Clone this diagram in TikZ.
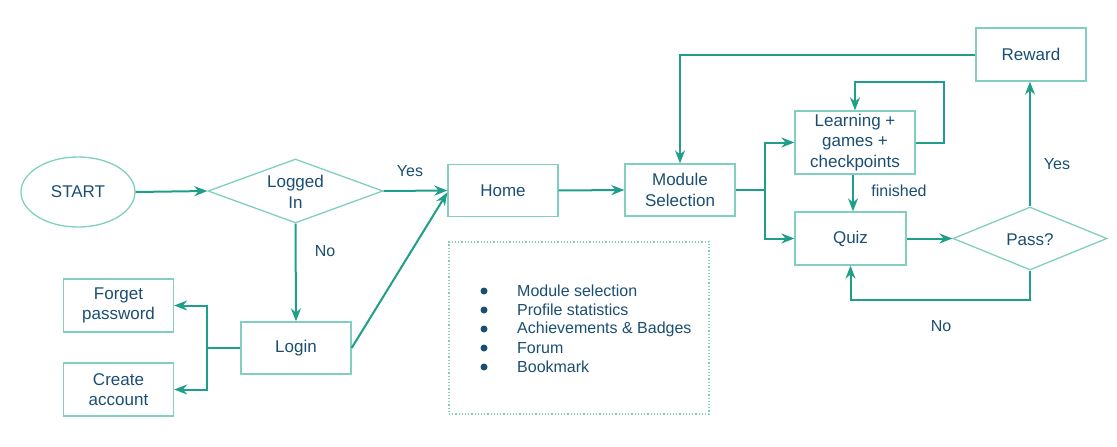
\documentclass[tikz,border=0pt]{standalone}
\usepackage{fontspec}
\setmainfont{Liberation Sans}
\usetikzlibrary{shapes.geometric,arrows.meta}
\definecolor{linec}{HTML}{1F9E89}
\definecolor{boxc}{HTML}{80CFBF}
\definecolor{txtc}{HTML}{1A4E72}
\tikzset{
  every node/.style={text=txtc,font=\fontsize{16}{20.5}\selectfont},
  bigtxt/.style={font=\fontsize{17}{20.5}\selectfont},
  boxnode/.style={draw=boxc,line width=1.3pt,minimum width=110pt,minimum height=52pt,align=center,inner sep=2pt,bigtxt},
  diam/.style={draw=boxc,line width=1.3pt,diamond,inner sep=0pt},
  conn/.style={draw=linec,line width=2pt,-{Stealth[length=13pt,width=10pt]}},
  plainconn/.style={draw=linec,line width=2pt},
  lbl/.style={inner sep=0pt}
}
\begin{document}
\begin{tikzpicture}[x=1pt,y=-1pt]
\useasboundingbox (0,0) rectangle (1117,447);
% nodes
\node[draw=boxc,line width=1.3pt,ellipse,minimum width=114pt,minimum height=70pt,bigtxt] (start) at (78,192) {START};
\node[diam,minimum width=175pt,minimum height=64pt] (log) at (295.5,191) {};
\node[align=center,lbl,bigtxt] (logt) at (295.5,192) {Logged\\In};
\node[boxnode] (home) at (503,190.5) {Home};
\node[boxnode] (login) at (296,348) {Login};
\node[boxnode,minimum height=53pt] (forget) at (118.5,305.5) {Forget\\password};
\node[boxnode,minimum height=53pt] (create) at (118.5,389.5) {Create\\account};
\node[boxnode] (mod) at (680,190) {Module\\Selection};
\node[boxnode,minimum width=120pt,minimum height=63pt] (learn) at (855,142.5) {Learning +\\games +\\checkpoints};
\node[boxnode,minimum width=111pt,minimum height=53pt] (quiz) at (850.5,238.5) {Quiz};
\node[diam,minimum width=154pt,minimum height=63pt] (pass) at (1030,238.5) {};
\node[lbl,bigtxt] (passt) at (1030,239.5) {Pass?};
\node[boxnode,minimum height=53pt] (reward) at (1031,54.5) {Reward};
\node[draw=boxc,line width=1.2pt,dotted,minimum width=260pt,minimum height=172pt] (panel) at (579,328) {};
% bullet list
\foreach \t/\y [count=\i] in {Module selection/291,Profile statistics/310,Achievements \& Badges/329,Forum/348,Bookmark/367}{
  \fill[txtc] (484,\y) circle (3.5pt);
  \node[anchor=west,inner sep=0pt] (item\i) at (517,\y) {\t};
}
% labels
\node[lbl] (yes1) at (410,171) {Yes};
\node[lbl] (no1) at (325,251) {No};
\node[lbl] (fin) at (899,191) {finished};
\node[lbl] (yes2) at (1057,164) {Yes};
\node[lbl] (no2) at (941,326) {No};
% coordinates
\coordinate (lsplit) at (207,348);
\coordinate (msplit) at (765,190);
\coordinate (loop) at (944,82);
\coordinate (nobot) at (1030,300);
% connectors
\draw[conn] (start.east) -- (log.west);
\draw[conn] (log.east) -- (home.west);
\draw[conn] (log.south) -- (login.north);
\draw[conn] (login.east) -- ([yshift=-2pt]home.west);
\draw[plainconn] (login.west) -- (lsplit);
\draw[conn] (lsplit) |- (forget.east);
\draw[conn] (lsplit) |- (create.east);
\draw[conn] (home.east) -- (mod.west);
\draw[plainconn] (mod.east) -- (msplit);
\draw[conn] (msplit) |- (learn.west);
\draw[conn] (msplit) |- (quiz.west);
\draw[conn] (learn.east) -| (loop) -| (learn.north);
\draw[conn] ([xshift=-2pt]learn.south) -- ([xshift=-2pt]learn.south |- quiz.north);
\draw[conn] (quiz.east) -- (pass.west);
\draw[conn] (pass.north) -- (pass.north |- reward.south);
\draw[conn] (reward.west) -| (mod.north);
\draw[conn] (pass.south) -- (nobot) -| (quiz.south);
\end{tikzpicture}
\end{document}
